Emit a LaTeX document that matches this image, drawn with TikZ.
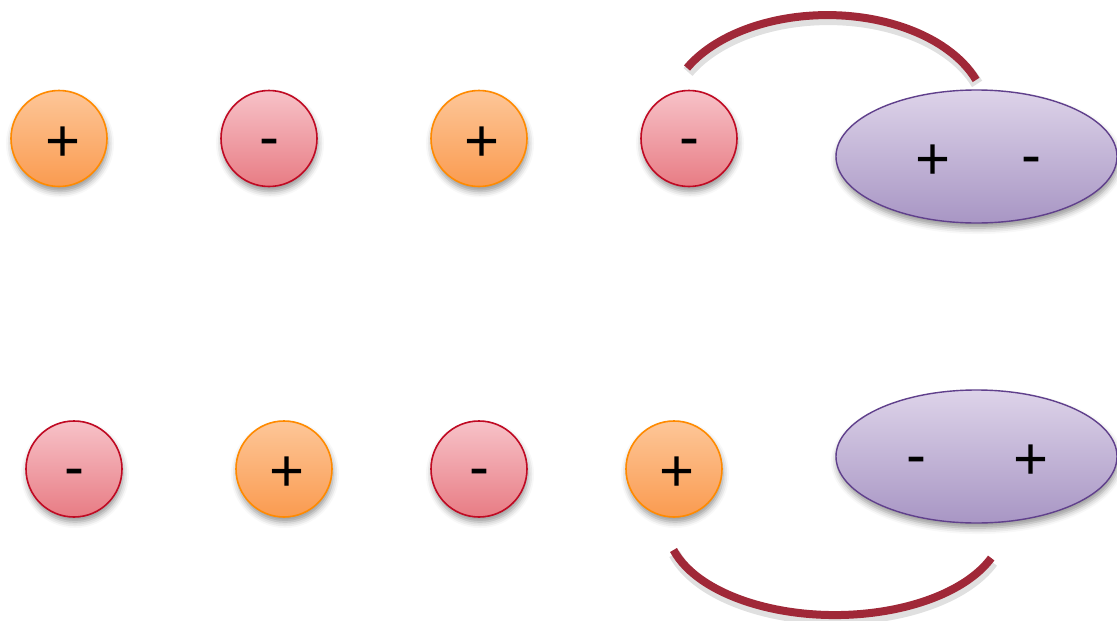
\documentclass[tikz,border=0pt]{standalone}
\usepackage{fontspec}
\setmainfont{Liberation Sans}
\usetikzlibrary{shapes.geometric,shadows.blur}

\definecolor{posTop}{RGB}{253,198,152}
\definecolor{posBot}{RGB}{250,155,80}
\definecolor{posLine}{RGB}{255,138,0}
\definecolor{negTop}{RGB}{247,194,200}
\definecolor{negBot}{RGB}{232,124,132}
\definecolor{negLine}{RGB}{192,10,35}
\definecolor{dipTop}{RGB}{221,211,233}
\definecolor{dipBot}{RGB}{168,150,196}
\definecolor{dipLine}{RGB}{96,64,140}
\definecolor{bond}{RGB}{160,40,56}

\tikzset{
  softshadow/.style={blur shadow={shadow xshift=1pt, shadow yshift=-5pt,
    shadow blur radius=6pt, shadow opacity=42}},
  ion/.style={circle, minimum size=96pt, inner sep=0pt, line width=1.6pt, softshadow},
  posion/.style={ion, draw=posLine, top color=posTop, bottom color=posBot},
  negion/.style={ion, draw=negLine, top color=negTop, bottom color=negBot},
  dipole/.style={ellipse, minimum width=281pt, minimum height=133pt, inner sep=0pt,
    line width=1.4pt, draw=dipLine, top color=dipTop, bottom color=dipBot, softshadow},
  sign/.style={anchor=base, inner sep=0pt, font=\fontsize{60}{60}\selectfont},
  bondline/.style={draw=bond, line width=8pt},
  bondshade/.style={draw=black, line width=12pt, opacity=0.12}
}

\begin{document}
\begin{tikzpicture}[x=1pt, y=-1pt]
  \useasboundingbox (0,0) rectangle (1117,621);

  % upper row: alternating ions and a dipole
  \node[posion] (a1) at (59,138.5) {};
  \node[negion] (a2) at (269,138.5) {};
  \node[posion] (a3) at (479,138.5) {};
  \node[negion] (a4) at (689,138.5) {};
  \node[dipole] (da) at (976.5,156.5) {};

  \node[sign] (sa1) at (63,161.5) {+};
  \node[sign] (sa2) at (269,157) {-};
  \node[sign] (sa3) at (482,161.5) {+};
  \node[sign] (sa4) at (689,157) {-};
  \node[sign] (sda1) at (933,179.5) {+};
  \node[sign] (sda2) at (1031,175) {-};

  % lower row: the reversed arrangement
  \node[negion] (b1) at (74,469) {};
  \node[posion] (b2) at (284,469) {};
  \node[negion] (b3) at (479,469) {};
  \node[posion] (b4) at (674,469) {};
  \node[dipole] (db) at (976.5,456.5) {};

  \node[sign] (sb1) at (74,487) {-};
  \node[sign] (sb2) at (287,491.5) {+};
  \node[sign] (sb3) at (479,487) {-};
  \node[sign] (sb4) at (677.5,491.5) {+};
  \node[sign] (sdb1) at (916,475) {-};
  \node[sign] (sdb2) at (1031,479) {+};

  % attraction arcs between the end ion and the dipole
  \coordinate (ta) at (687,68);
  \coordinate (tb) at (673.5,550);

  \draw[bondshade] ([xshift=1pt,yshift=-4pt]ta) arc[start angle=151.9, end angle=20.6, x radius=159pt, y radius=100pt];
  \draw[bondline] (ta) arc[start angle=151.9, end angle=20.6, x radius=159pt, y radius=100pt];

  \draw[bondshade] ([xshift=1pt,yshift=-4pt]tb) arc[start angle=196.1, end angle=338.5, x radius=168pt, y radius=90pt];
  \draw[bondline] (tb) arc[start angle=196.1, end angle=338.5, x radius=168pt, y radius=90pt];
\end{tikzpicture}
\end{document}
